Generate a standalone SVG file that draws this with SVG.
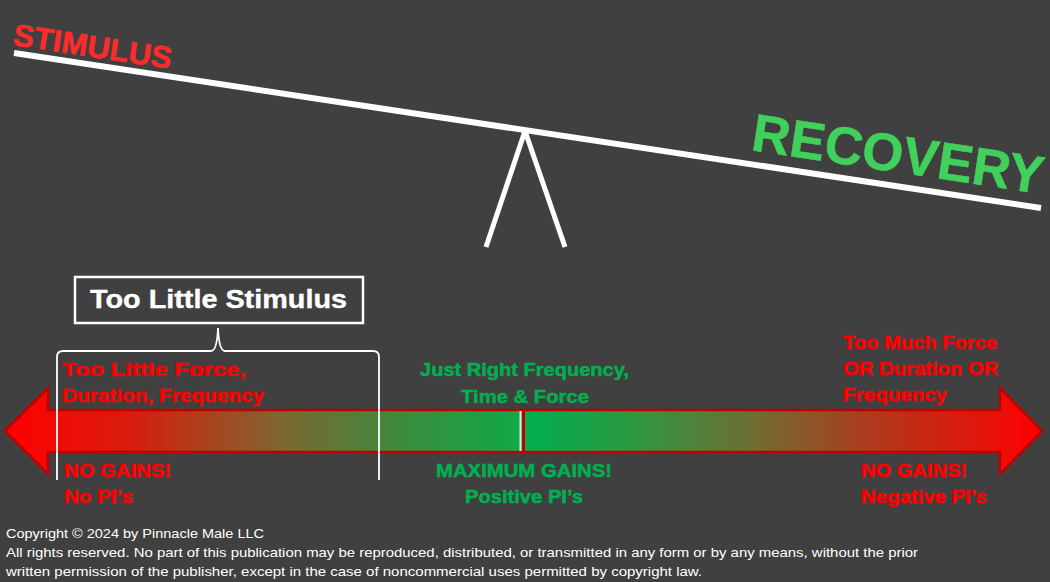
<svg xmlns="http://www.w3.org/2000/svg" width="1050" height="582" viewBox="0 0 1050 582">
<defs>
<linearGradient id="bar" gradientUnits="userSpaceOnUse" x1="5" y1="0" x2="1042" y2="0">
<stop offset="0" stop-color="#ff0000"/>
<stop offset="0.12" stop-color="#d81c0c"/>
<stop offset="0.27" stop-color="#7c6832"/>
<stop offset="0.40" stop-color="#33903f"/>
<stop offset="0.495" stop-color="#12a848"/>
<stop offset="0.4995" stop-color="#00b050"/>
<stop offset="0.60" stop-color="#2a9a42"/>
<stop offset="0.72" stop-color="#6e6e34"/>
<stop offset="0.84" stop-color="#b0381c"/>
<stop offset="1" stop-color="#ff0000"/>
</linearGradient>
<style>
.lbl{font-family:"Liberation Sans",Arial,sans-serif;font-weight:bold;font-size:19px;stroke-width:0.5px}
.red{fill:#ff0000;stroke:#ff0000}
.grn{fill:#00b050;stroke:#00b050}
.cp{font-family:"Liberation Sans",Arial,sans-serif;font-size:13px;fill:#ffffff}
.wl{stroke:#ffffff;fill:none}
</style>
</defs>
<rect width="1050" height="582" fill="#404040"/>
<g id="seesaw">
<line x1="14" y1="53" x2="1041" y2="208" class="wl" stroke-width="6"/>
<line x1="525" y1="131" x2="486" y2="247" class="wl" stroke-width="5"/>
<line x1="525" y1="131" x2="565" y2="247" class="wl" stroke-width="5"/>
</g>
<g id="stimulus">
<text transform="translate(12,45) rotate(8.6)" font-family="Liberation Sans,Arial,sans-serif" font-weight="bold" font-size="31" fill="#ff2a2a" stroke="#ff2a2a" stroke-width="0.5" textLength="160" lengthAdjust="spacingAndGlyphs">STIMULUS</text>
</g>
<g id="recovery">
<text transform="translate(750,150) rotate(8.6)" font-family="Liberation Sans,Arial,sans-serif" font-weight="bold" font-size="53" fill="#42d05c" stroke="#42d05c" stroke-width="0.6" textLength="294" lengthAdjust="spacingAndGlyphs">RECOVERY</text>
</g>
<g id="scale-arrow">
<path d="M5,431 L48,388 L48,410 L1000,410 L1000,388 L1042,431 L1000,474 L1000,452 L48,452 L48,474 Z" fill="url(#bar)" stroke="#c00000" stroke-width="2.5" stroke-linejoin="miter"/>
<line x1="520.5" y1="411" x2="520.5" y2="451" stroke="#ffffff" stroke-width="2" opacity="0.85"/>
<line x1="523.5" y1="411" x2="523.5" y2="451" stroke="#c00000" stroke-width="3"/>
</g>
<g id="connectors">
<path d="M57,480 V357 Q57,351 63,351 H211 Q217,351 218,328 Q219,351 225,351 H373 Q379,351 379,357 V480" class="wl" stroke-width="1.8"/>
</g>
<g id="too-little-box">
<rect x="75" y="277" width="288" height="46" fill="#404040" stroke="#ffffff" stroke-width="2.5"/>
<text x="90" y="308" font-family="Liberation Sans,Arial,sans-serif" font-weight="bold" font-size="26" fill="#ffffff" stroke="#ffffff" stroke-width="0.4" textLength="257" lengthAdjust="spacingAndGlyphs">Too Little Stimulus</text>
</g>
<g id="left-labels">
<text x="62" y="376" class="lbl red" textLength="184" lengthAdjust="spacingAndGlyphs">Too Little Force,</text>
<text x="62" y="402" class="lbl red" textLength="202" lengthAdjust="spacingAndGlyphs">Duration, Frequency</text>
<text x="64" y="477" class="lbl red" textLength="107" lengthAdjust="spacingAndGlyphs">NO GAINS!</text>
<text x="64" y="503" class="lbl red" textLength="69" lengthAdjust="spacingAndGlyphs">No PI’s</text>
</g>
<g id="center-labels">
<text x="420" y="376" class="lbl grn" textLength="209" lengthAdjust="spacingAndGlyphs">Just Right Frequency,</text>
<text x="461" y="403" class="lbl grn" textLength="128" lengthAdjust="spacingAndGlyphs">Time &amp; Force</text>
<text x="436" y="477" class="lbl grn" textLength="176" lengthAdjust="spacingAndGlyphs">MAXIMUM GAINS!</text>
<text x="465" y="503" class="lbl grn" textLength="118" lengthAdjust="spacingAndGlyphs">Positive PI’s</text>
</g>
<g id="right-labels">
<text x="843" y="349" class="lbl red" textLength="154" lengthAdjust="spacingAndGlyphs">Too Much Force</text>
<text x="843" y="375" class="lbl red" textLength="155" lengthAdjust="spacingAndGlyphs">OR Duration OR</text>
<text x="843" y="401" class="lbl red" textLength="104" lengthAdjust="spacingAndGlyphs">Frequency</text>
<text x="861" y="477" class="lbl red" textLength="106" lengthAdjust="spacingAndGlyphs">NO GAINS!</text>
<text x="861" y="503" class="lbl red" textLength="126" lengthAdjust="spacingAndGlyphs">Negative PI’s</text>
</g>
<g id="copyright">
<text x="6" y="538" class="cp" textLength="258" lengthAdjust="spacingAndGlyphs">Copyright © 2024 by Pinnacle Male LLC</text>
<text x="6" y="557" class="cp" textLength="912" lengthAdjust="spacingAndGlyphs">All rights reserved. No part of this publication may be reproduced, distributed, or transmitted in any form or by any means, without the prior</text>
<text x="6" y="576" class="cp" textLength="696" lengthAdjust="spacingAndGlyphs">written permission of the publisher, except in the case of noncommercial uses permitted by copyright law.</text>
</g>
</svg>
